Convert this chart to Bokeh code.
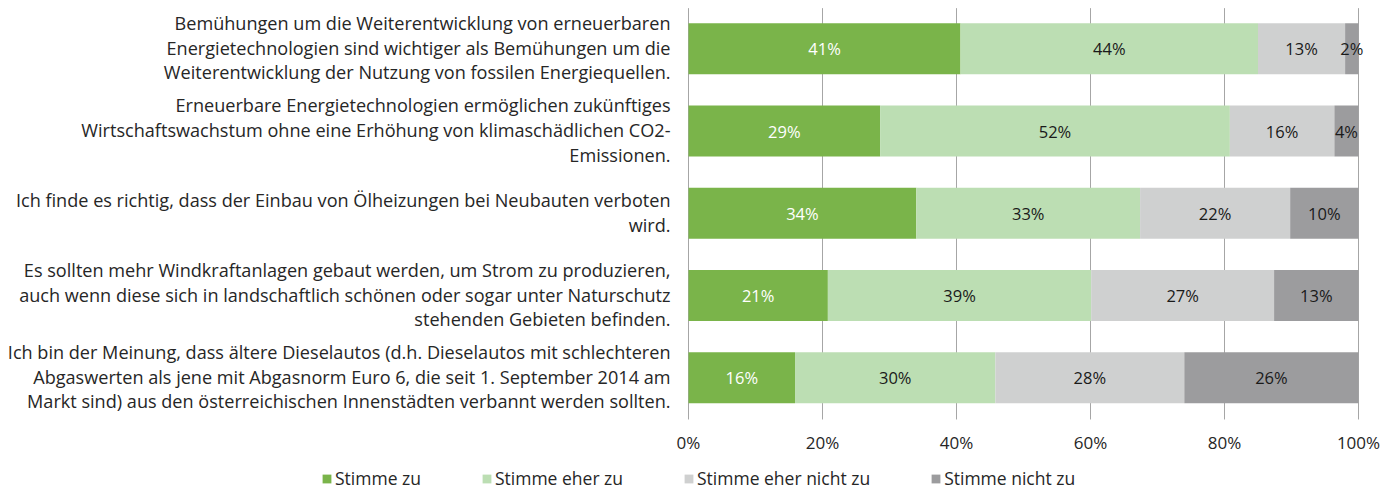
from bokeh.plotting import figure
from bokeh.models import Range1d, FixedTicker, PrintfTickFormatter, Legend, LegendItem
from bokeh.embed import file_html
from bokeh.resources import INLINE
from bokeh.core.properties import value

categories = [
    "Bemühungen um die Weiterentwicklung von erneuerbaren\nEnergietechnologien sind wichtiger als Bemühungen um die\nWeiterentwicklung der Nutzung von fossilen Energiequellen.",
    "Erneuerbare Energietechnologien ermöglichen zukünftiges\nWirtschaftswachstum ohne eine Erhöhung von klimaschädlichen CO2-\nEmissionen.",
    "Ich finde es richtig, dass der Einbau von Ölheizungen bei Neubauten verboten\nwird.",
    "Es sollten mehr Windkraftanlagen gebaut werden, um Strom zu produzieren,\nauch wenn diese sich in landschaftlich schönen oder sogar unter Naturschutz\nstehenden Gebieten befinden.",
    "Ich bin der Meinung, dass ältere Dieselautos (d.h. Dieselautos mit schlechteren\nAbgaswerten als jene mit Abgasnorm Euro 6, die seit 1. September 2014 am\nMarkt sind) aus den österreichischen Innenstädten verbannt werden sollten.",
]
series_names = ["Stimme zu", "Stimme eher zu", "Stimme eher nicht zu", "Stimme nicht zu"]
stimme_zu = [40.6, 28.6, 34.0, 20.8, 15.9]
stimme_eher_zu = [44.4, 52.2, 33.4, 39.3, 29.9]
stimme_eher_nicht_zu = [13.0, 15.6, 22.4, 27.3, 28.2]
stimme_nicht_zu = [2.0, 3.6, 10.2, 12.6, 26.0]
x_ticks = [0, 20, 40, 60, 80, 100]

colors = ["#7ab44a", "#bcdeb3", "#cfd0d0", "#9c9c9e"]
label_colors = ["#ffffff", "#1a1a1a", "#1a1a1a", "#1a1a1a"]
FONT = "Open Sans"

all_series = [stimme_zu, stimme_eher_zu, stimme_eher_nicht_zu, stimme_nicht_zu]
n = len(categories)
ypos = [n - 1 - i for i in range(n)]

# plot-area extents in data units (category slots are 1 unit tall)
y_top = (n - 1) + 0.514
y_axis_pos = -0.507
y_bottom = -1.3705

p = figure(
    width=1383, height=490,
    x_range=Range1d(-102.687, 103.73), y_range=Range1d(y_bottom, y_top),
    output_backend="svg", toolbar_location=None,
    min_border_left=0, min_border_right=0, min_border_top=6, min_border_bottom=0,
    y_axis_location=None,
)
p.outline_line_color = None
p.ygrid.visible = False
p.xgrid.visible = False

# vertical gridlines limited to the plot area
p.segment(x0=x_ticks, y0=[y_axis_pos] * len(x_ticks), x1=x_ticks, y1=[y_top - 0.02] * len(x_ticks),
          line_color="#a6a6a6", line_width=1, level="underlay")

p.xaxis.fixed_location = y_axis_pos
p.xaxis.ticker = FixedTicker(ticks=x_ticks)
p.xaxis.formatter = PrintfTickFormatter(format="%d%%")
p.xaxis.axis_line_color = None
p.xaxis.major_tick_line_color = None
p.xaxis.minor_tick_line_color = None
p.xaxis.major_tick_out = 0
p.xaxis.major_tick_in = 0
p.xaxis.major_label_standoff = 12
p.xaxis.major_label_text_font = FONT
p.xaxis.major_label_text_font_size = "17px"
p.xaxis.major_label_text_color = "#262626"

items = []
left = [0.0] * n
for name, vals, col, lcol in zip(series_names, all_series, colors, label_colors):
    right = [l + v for l, v in zip(left, vals)]
    r = p.hbar(y=ypos, left=left, right=right, height=0.62, fill_color=col, line_color=None)
    items.append(LegendItem(label=name, renderers=[r]))
    mids = [(l + rr) / 2 for l, rr in zip(left, right)]
    p.text(x=mids, y=ypos, text=[f"{v:.0f}%" for v in vals],
           text_align="center", text_baseline="middle", text_color=lcol,
           text_font=value(FONT), text_font_size="16.5px")
    left = right

# category labels, line by line
lx, ly, lt, lo = [], [], [], []
for cat, y in zip(categories, ypos):
    lines = cat.split("\n")
    m = len(lines)
    for j, line in enumerate(lines):
        lx.append(0)
        ly.append(y)
        lt.append(line)
        lo.append((j - (m - 1) / 2) * 24.7 - 1)
p.text(x=lx, y=ly, text=lt, y_offset=lo, x_offset=-18,
       text_align="right", text_baseline="middle", text_color="#262626",
       text_font=value(FONT), text_font_size="18.1px")

legend = Legend(items=items, orientation="horizontal", location=(321, 0),
                label_text_font=FONT, label_text_font_size="17.5px",
                label_text_color="#262626", glyph_width=11, glyph_height=11,
                label_height=16, label_standoff=3, spacing=60, padding=0, margin=0,
                border_line_color=None, background_fill_alpha=0)
p.add_layout(legend)

open("out.html", "w").write(file_html(p, INLINE))
